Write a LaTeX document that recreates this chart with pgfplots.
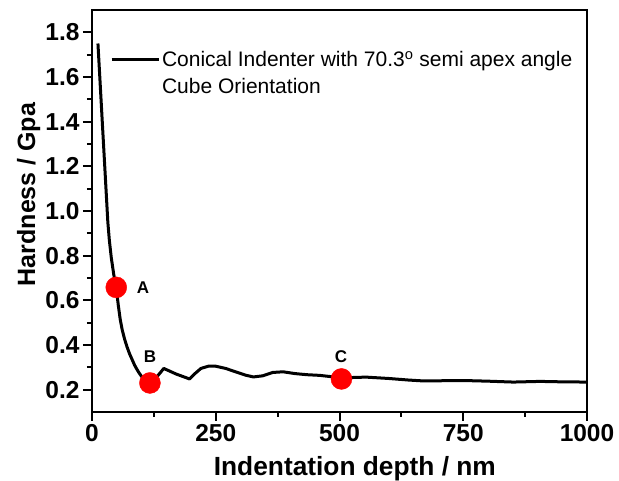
\documentclass[border=0pt]{standalone}
\usepackage{pgfplots}
\pgfplotsset{compat=1.18}
\usepackage{fontspec}
\setmainfont{Liberation Sans}
\definecolor{ptred}{RGB}{255,0,0}
\begin{document}
\begin{tikzpicture}
\begin{axis}[
  scale only axis,
  width=495pt, height=402pt,
  xmin=0, xmax=1000, ymin=0.1, ymax=1.9,
  xtick={0,250,500,750,1000},
  minor xtick={125,375,625,875},
  ytick={0.2,0.4,0.6,0.8,1.0,1.2,1.4,1.6,1.8},
  minor ytick={0.3,0.5,0.7,0.9,1.1,1.3,1.5,1.7},
  xtick pos=bottom, ytick pos=left,
  tick align=outside,
  major tick length=9pt, minor tick length=5pt,
  every tick/.style={black, line width=2pt},
  axis line style={line width=2.6pt},
  /pgf/number format/assume math mode=true,
  tick label style={font=\fontsize{24.5}{24.5}\selectfont\bfseries},
  yticklabel style={/pgf/number format/.cd, fixed, fixed zerofill, precision=1},
  xticklabel style={/pgf/number format/.cd, fixed, precision=0, set thousands separator={}},
  xlabel={Indentation depth / nm},
  ylabel={Hardness / Gpa},
  xlabel style={font=\fontsize{26.3}{26.3}\selectfont\bfseries, at={(axis description cs:0.531,-0.157)}, anchor=base},
  ylabel style={font=\fontsize{25}{25}\selectfont\bfseries, at={(axis description cs:-0.115,0.541)}, anchor=base},
  legend cell align=left,
  legend style={draw=none, fill=none, at={(0.03,0.908)}, anchor=north west,
    font=\fontsize{21}{21}\selectfont, row sep=6pt},
  legend image code/.code={\draw[#1] (0pt,0pt) -- (47pt,0pt);},
  clip=false,
]
\addplot[black, line width=3pt, line join=round] coordinates {
(12,1.75) (32,0.95) (35,0.87) (39,0.79) (44,0.715) (49,0.655) (53,0.58) (57,0.515)
(61,0.468) (66,0.425) (71,0.39) (76,0.36) (81,0.335) (86,0.31) (91,0.29) (96,0.272)
(101,0.257) (106,0.245) (111,0.236) (116,0.23) (123,0.235) (132,0.26) (145,0.295)
(170,0.27) (197,0.248) (207,0.27) (220,0.295) (235,0.305) (250,0.305) (270,0.295)
(290,0.28) (310,0.265) (326,0.257) (345,0.262) (365,0.277) (386,0.28) (410,0.272)
(434,0.267) (460,0.264) (484,0.258) (504,0.25) (530,0.255) (555,0.256) (600,0.25)
(640,0.243) (670,0.239) (750,0.241) (800,0.238) (851,0.234) (905,0.237) (950,0.235)
(1000,0.234)
};
\addlegendentry{Conical Indenter with 70.3\textsuperscript{o} semi apex angle}
\addlegendimage{empty legend}
\addlegendentry{Cube Orientation}
\addplot[only marks, mark=*, mark size=10.5pt, color=ptred, forget plot] coordinates {
(49,0.658) (117,0.23) (504,0.248)
};
\node[font=\fontsize{17}{17}\selectfont\bfseries] at (axis cs:103,0.655) {A};
\node[font=\fontsize{17}{17}\selectfont\bfseries] at (axis cs:117,0.35) {B};
\node[font=\fontsize{17}{17}\selectfont\bfseries] at (axis cs:503,0.35) {C};
\end{axis}
\pgfresetboundingbox
\path ([xshift=-92pt,yshift=-69pt]current axis.south west) rectangle ([xshift=32pt,yshift=10pt]current axis.north east);
\end{tikzpicture}
\end{document}
